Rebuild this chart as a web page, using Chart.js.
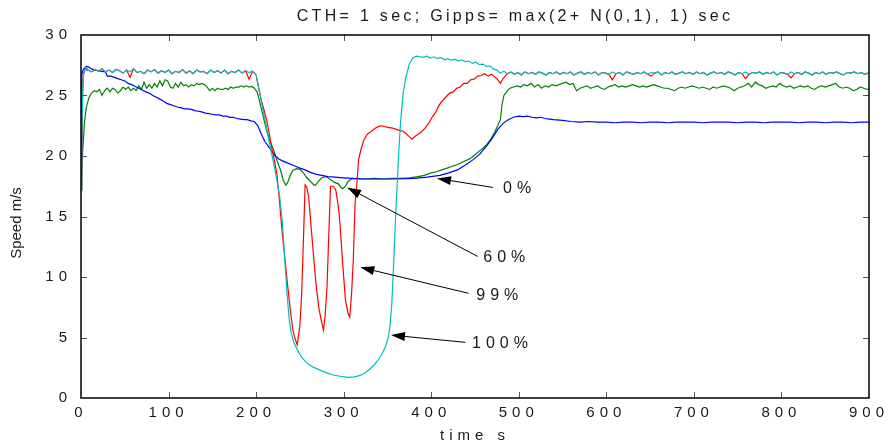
<!DOCTYPE html>
<html><head><meta charset="utf-8">
<script src="https://cdn.jsdelivr.net/npm/chart.js@4.4.1/dist/chart.umd.min.js"></script>
<style>html,body{margin:0;padding:0;background:#fff;}#wrap{width:894px;height:448px;}</style>
</head><body><div id="wrap"><canvas id="c" width="894" height="448"></canvas></div>
<script>
// ---------- data: [time s, speed m/s] ----------
const speed100pct = [ // cyan
[0,17.2],[1,22.0],[2,25.5],[3,26.8],[5,27.3],[7,27.25],
[8,27.10],[12,26.95],[16,27.15],[20,27.00],[24,27.20],[28,26.95],[32,27.10],[36,26.90],[40,27.15],[44,27.05],
[48,26.85],[52,27.10],[56,26.95],[60,27.20],[64,26.90],[68,27.00],[72,26.80],[76,27.10],[80,26.95],[84,27.15],
[88,26.85],[92,27.05],[96,26.90],[100,27.10],[104,26.80],[108,27.00],[112,26.90],[116,27.15],[120,26.85],[124,27.05],
[128,26.80],[132,27.10],[136,26.95],[140,27.00],[144,26.80],[148,27.10],[152,26.90],[156,27.05],[160,26.85],[164,27.10],
[168,26.80],[172,27.00],[176,26.90],[180,27.10],[184,26.85],[188,27.05],[192,26.90],[196,27.00],
[200,26.7],[203,25.6],[206,24.5],[209,23.4],[212,22.3],[216,20.8],[220,19.4],[224,17.9],[227,16.6],[230,14.5],
[232,12.3],[234,10.0],[236,8.0],[238,6.4],[240,5.4],[243,4.6],[247,4.0],[252,3.35],[258,2.9],[265,2.55],
[273,2.3],[280,2.1],[288,1.9],[296,1.8],[305,1.7],[312,1.75],[318,1.85],[323,2.0],[330,2.4],[335,2.75],
[340,3.2],[345,3.8],[348,4.3],[351,5.0],[353,6.0],[355,7.8],[357,11.0],[359,14.5],[361,17.5],[363,20.5],
[365,22.8],[368,25.2],[371,26.5],[375,27.6],[379,28.1],[383,28.25],
[387,28.20],[391,28.15],[395,28.25],[399,28.10],[403,28.20],[407,28.05],[411,28.15],[415,27.95],[419,28.05],[423,27.90],
[427,28.00],[431,27.85],[435,27.95],[439,27.80],[443,27.85],[447,27.65],[451,27.75],[455,27.55],[459,27.60],[463,27.40],
[467,27.45],[471,27.20],[475,27.10],[479,26.85],[483,27.00],
[487,26.80],[491,26.95],[495,26.75],[499,26.90],[503,26.70],[507,26.95],[511,26.80],[515,26.90],[519,26.75],[523,26.95],
[527,26.85],[531,26.70],[535,26.90],[539,26.80],[543,26.95],[547,26.75],[551,26.90],[555,26.80],[559,26.95],[563,26.70],
[567,26.85],[571,26.95],[575,26.75],[579,26.90],[583,26.80],[587,26.95],[591,26.70],[595,26.90],[599,26.85],[603,26.75],
[607,26.95],[611,26.80],[615,26.90],[619,26.70],[623,26.95],[627,26.85],[631,26.75],[635,26.90],[639,26.80],[643,26.95],
[647,26.75],[651,26.90],[655,26.85],[659,26.95],[663,26.70],[667,26.90],[671,26.80],[675,26.95],[679,26.75],[683,26.85],
[687,26.95],[691,26.80],[695,26.90],[699,26.75],[703,26.95],[707,26.80],[711,26.90],[715,26.70],[719,26.85],[723,26.95],
[727,26.80],[731,26.90],[735,26.75],[739,26.95],[743,26.85],[747,26.70],[751,26.90],[755,26.80],[759,26.95],[763,26.75],
[767,26.90],[771,26.85],[775,26.95],[779,26.75],[783,26.90],[787,26.80],[791,26.95],[795,26.70],[799,26.90],[803,26.85],
[807,26.75],[811,26.95],[815,26.80],[819,26.90],[823,26.75],[827,26.95],[831,26.85],[835,26.70],[839,26.90],[843,26.80],
[847,26.95],[851,26.75],[855,26.90],[859,26.85],[863,26.95],[867,26.80],[871,26.70],[875,26.90],[879,26.85],[883,26.95],
[887,26.80],[891,26.90],[895,26.75],[899,26.85],[900,26.9]
];

const speed99pct = [ // red
[0,17.2],[1,22.0],[2,25.5],[3,26.8],[5,27.25],[7,27.1],
[8,27.10],[12,26.95],[16,27.15],[20,27.00],[24,27.20],[28,26.95],[32,27.10],[36,26.90],[40,27.15],[44,27.05],
[48,26.85],[52,27.10],[56,26.50],[60,27.20],[64,26.90],[68,27.00],[72,26.80],[76,27.10],[80,26.95],[84,27.15],
[88,26.85],[92,27.05],[96,26.90],[100,27.10],[104,26.80],[108,27.00],[112,26.90],[116,27.15],[120,26.85],[124,27.05],
[128,26.80],[132,27.10],[136,26.95],[140,27.00],[144,26.80],[148,27.10],[152,26.90],[156,27.05],[160,26.85],[164,27.10],
[168,26.80],[172,27.00],[176,26.90],[180,27.10],[184,26.85],[188,27.05],[192,26.35],[196,27.00],
[200,26.7],[203,25.6],[206,24.6],[209,23.8],[212,23.0],[215,21.8],[218,20.6],[221,19.6],[224,18.4],[227,16.0],
[230,13.5],[233,11.4],[236,9.3],[239,7.3],[242,5.6],[244,5.0],[247,4.4],[250,6.0],[252,8.6],[254,13.0],
[256,17.6],[258,17.4],[260,16.6],[263,14.0],[266,11.4],[269,9.0],[272,7.3],[275,6.2],[277,5.6],[279,7.0],
[281,9.2],[283,13.5],[285,17.5],[288,17.5],[291,17.2],[294,15.8],[296,14.2],[299,11.0],[302,8.1],[305,7.0],
[307,6.7],[309,8.6],[311,11.4],[313,16.0],[315,17.6],[317,19.7],[320,20.6],[323,21.3],[327,21.8],[331,22.0],
[336,22.3],[340,22.45],[344,22.5],[348,22.4],[352,22.35],[356,22.3],[360,22.2],[364,22.1],[368,22.05],[372,21.8],
[375,21.6],[378,21.4],[381,21.6],[385,21.8],[389,22.0],[393,22.3],[397,22.7],[401,23.2],[405,23.6],[409,24.2],
[413,24.6],[417,24.9],[421,25.2],[425,25.3],[429,25.6],[433,25.7],[437,26.0],[441,26.0],[445,26.3],[449,26.35],
[453,26.6],[457,26.65],[461,26.8],[465,26.6],[469,26.75],[473,26.5],[476,26.3],[479,26.0],[482,26.4],
[487,26.80],[491,26.95],[495,26.75],[499,26.90],[503,26.70],[507,26.95],[511,26.80],[515,26.90],[519,26.75],[523,26.95],
[527,26.85],[531,26.70],[535,26.90],[539,26.80],[543,26.95],[547,26.75],[551,26.90],[555,26.80],[559,26.95],[563,26.70],
[567,26.85],[571,26.95],[575,26.75],[579,26.90],[583,26.80],[587,26.95],[591,26.70],[595,26.90],[599,26.85],[603,26.75],
[607,26.30],[611,26.80],[615,26.90],[619,26.70],[623,26.95],[627,26.85],[631,26.75],[635,26.90],[639,26.80],[643,26.95],
[647,26.75],[651,26.60],[655,26.85],[659,26.95],[663,26.70],[667,26.90],[671,26.80],[675,26.95],[679,26.75],[683,26.85],
[687,26.95],[691,26.80],[695,26.90],[699,26.75],[703,26.95],[707,26.80],[711,26.90],[715,26.70],[719,26.85],[723,26.95],
[727,26.80],[731,26.90],[735,26.75],[739,26.95],[743,26.85],[747,26.70],[751,26.90],[755,26.80],[759,26.40],[763,26.75],
[767,26.90],[771,26.85],[775,26.95],[779,26.75],[783,26.90],[787,26.80],[791,26.95],[795,26.70],[799,26.90],[803,26.85],
[807,26.75],[811,26.45],[815,26.80],[819,26.90],[823,26.75],[827,26.95],[831,26.85],[835,26.70],[839,26.90],[843,26.80],
[847,26.95],[851,26.75],[855,26.90],[859,26.85],[863,26.95],[867,26.80],[871,26.70],[875,26.90],[879,26.85],[883,26.95],
[887,26.80],[891,26.90],[895,26.75],[899,26.85],[900,26.9]
];

const speed60pct = [ // green
[0,17.0],[2,20.5],[4,22.8],[6,24.0],[9,24.8],[12,25.2],[15,25.4],
[18,25.3],[21,25.5],[24,25.0],[27,25.4],[30,25.6],[33,25.3],[36,25.6],[39,25.5],[42,25.2],[45,25.4],
[48,25.7],[51,25.5],[54,25.7],[57,25.4],[60,25.6],[63,25.4],[66,25.8],[69,25.5],[72,26.1],[75,25.6],
[78,25.9],[81,25.6],[84,26.0],[87,25.7],[90,26.2],[93,25.8],[96,26.3],[99,26.2],[102,25.7],[105,25.6],
[108,26.0],[111,25.7],[114,26.1],[117,25.8],[120,25.9],[123,25.7],[126,25.9],[129,25.8],[132,26.0],[135,25.9],
[138,26.0],[141,25.9],[144,25.7],[147,25.4],[150,25.6],[153,25.4],[156,25.6],[159,25.5],[162,25.5],[165,25.6],
[168,25.5],[171,25.7],[174,25.6],[177,25.7],[180,25.7],[183,25.8],[186,25.7],[189,25.8],[192,25.7],[195,25.75],
[198,25.6],[201,25.3],
[203,24.8],[206,23.9],[209,23.0],[212,22.1],[216,21.2],[220,20.5],[224,19.6],[228,18.8],[231,18.0],[234,17.6],
[236,17.8],[239,18.4],[242,18.8],[246,18.95],[250,18.9],[254,18.6],[258,18.2],[262,17.9],[266,17.6],[268,17.6],
[271,17.9],[275,18.2],[279,18.3],[282,18.2],[286,18.0],[290,17.8],[294,17.7],[297,17.4],[299,17.3],[302,17.5],
[305,17.9],[309,18.1],[315,18.15],[325,18.1],[335,18.15],[345,18.1],[355,18.15],[365,18.15],[375,18.2],[385,18.3],
[392,18.4],[400,18.6],[406,18.7],[412,18.85],[418,19.0],[424,19.15],[430,19.3],[436,19.5],[442,19.7],[446,19.85],
[450,20.1],[455,20.4],[460,20.7],[464,21.0],[468,21.4],[472,21.9],[476,22.5],[479,23.0],[481,24.3],[483,25.0],
[486,25.3],[490,25.6],[494,25.7],
[498,25.8],[502,25.7],[506,25.9],[510,25.8],[514,26.0],[518,25.7],[522,25.9],[526,25.6],[530,25.8],[534,25.7],
[538,25.9],[542,25.8],[546,25.9],[550,26.0],[554,26.1],[558,25.9],[562,26.0],[566,25.4],[570,25.6],[574,25.7],
[578,25.8],[582,25.6],[586,25.7],[590,25.8],[594,25.6],[598,25.5],[602,25.7],[606,25.8],[610,25.9],[614,25.7],
[618,25.8],[622,25.7],[626,25.8],[630,25.9],[634,25.8],[638,25.7],[642,25.8],[646,25.7],[650,25.8],[654,25.9],
[658,25.8],[662,25.7],[666,25.6],[670,25.6],[674,25.5],[678,25.4],[682,25.6],[686,25.7],[690,25.6],[694,25.7],
[698,25.8],[702,25.7],[706,25.6],[710,25.7],[714,25.6],[718,25.5],[722,25.7],[726,25.6],[730,25.7],[734,25.8],
[738,25.7],[742,25.6],[746,25.4],[750,25.6],[754,25.7],[758,25.8],[762,26.0],[766,25.7],[770,26.1],[774,25.9],
[778,25.8],[782,25.6],[786,25.7],[790,25.8],[794,25.7],[798,26.0],[802,25.8],[806,25.7],[810,25.8],[814,25.6],
[818,25.7],[822,25.8],[826,25.7],[830,25.8],[834,25.6],[838,25.5],[842,25.7],[846,25.8],[850,25.7],[854,25.8],
[858,25.9],[862,26.0],[866,25.7],[870,25.6],[874,25.7],[878,25.6],[882,25.4],[886,25.5],[890,25.7],[894,25.6],
[898,25.5],[900,25.55]
];

const speed0pct = [ // blue
[0,20.0],[1,26.8],[3,27.2],[6,27.4],[9,27.35],[12,27.2],[16,27.1],[20,27.05],[24,27.0],[28,26.95],
[30,26.6],[34,26.6],[38,26.5],[42,26.4],[46,26.3],[50,26.2],[54,26.0],[58,25.9],[62,25.75],[66,25.6],
[70,25.45],[74,25.3],[78,25.2],[82,25.0],[86,24.85],[90,24.7],[94,24.55],[98,24.35],[102,24.25],[106,24.15],
[110,24.05],[114,24.0],[118,23.9],[122,23.9],[126,23.85],[130,23.75],[134,23.7],[138,23.65],[142,23.55],[146,23.5],
[150,23.45],[154,23.4],[158,23.4],[162,23.3],[166,23.3],[170,23.2],[174,23.2],[178,23.1],[182,23.05],[186,23.0],
[190,23.0],[194,22.9],[198,22.85],[202,22.5],[206,21.8],[210,21.2],[214,20.8],[218,20.4],[222,20.0],[226,19.75],
[230,19.6],[235,19.45],[240,19.3],[245,19.15],[250,19.0],[256,18.85],[262,18.65],[268,18.5],[275,18.4],[282,18.3],
[290,18.25],[300,18.2],[310,18.15],[320,18.1],[340,18.1],[360,18.1],[380,18.15],[395,18.25],[410,18.4],[420,18.6],
[430,18.85],[440,19.3],[448,19.7],[456,20.2],[464,20.9],[470,21.5],[476,22.2],[482,22.7],[488,23.0],[494,23.2],
[500,23.3],[505,23.25],[510,23.3],[515,23.2],[520,23.15],[525,23.2],[530,23.1],[535,23.05],[540,23.0],[550,22.95],
[560,22.85],[570,22.8],[580,22.85],[590,22.8],[600,22.8],[610,22.75],[620,22.8],[630,22.8],[640,22.75],[650,22.8],
[660,22.8],[670,22.75],[680,22.8],[690,22.8],[700,22.8],[710,22.75],[720,22.8],[730,22.8],[740,22.8],[750,22.75],
[760,22.8],[770,22.8],[780,22.75],[790,22.8],[800,22.8],[810,22.8],[820,22.75],[830,22.8],[840,22.8],[850,22.75],
[860,22.8],[870,22.8],[880,22.75],[890,22.8],[900,22.8]
];

// annotation labels, anchored in data units
const annotationLabels = ['0%', '60%', '99%', '100%'];
const annotationTips   = [[406.6, 18.15], [303.9, 17.4], [319, 10.8], [354, 5.2]];
const annotationTails  = [[470.5, 17.4], [453, 11.7], [442.7, 8.65], [439, 4.6]];
const annotationText   = [[482, 17.3], [459.5, 11.6], [451.5, 8.45], [446.6, 4.5]];

const chartTitle = 'CTH= 1 sec; Gipps= max(2+ N(0,1), 1) sec';
const xAxisTitle = 'time s';
const yAxisTitle = 'Speed m/s';

const FONT = '"Liberation Sans", Arial, sans-serif';
const TEXT = '#1a1a1a';

const decorations = {
  id: 'decorations',
  beforeDraw(chart) { chart.ctx.letterSpacing = '5px'; },
  afterDatasetsDraw(chart) {
    const {ctx, chartArea: a, scales: {x, y}} = chart;
    ctx.save();
    ctx.strokeStyle = '#555'; ctx.lineWidth = 1;
    ctx.beginPath();
    x.ticks.forEach(t => {
      if (t.value <= x.min || t.value >= x.max) return;
      const p = Math.round(x.getPixelForValue(t.value)) + 0.5;
      ctx.moveTo(p, a.bottom); ctx.lineTo(p, a.bottom - 6);
      ctx.moveTo(p, a.top); ctx.lineTo(p, a.top + 6);
    });
    y.ticks.forEach(t => {
      if (t.value <= y.min || t.value >= y.max) return;
      const p = Math.round(y.getPixelForValue(t.value)) + 0.5;
      ctx.moveTo(a.left, p); ctx.lineTo(a.left + 6, p);
      ctx.moveTo(a.right, p); ctx.lineTo(a.right - 6, p);
    });
    ctx.stroke();
    ctx.strokeStyle = '#000'; ctx.lineWidth = 1.5;
    ctx.strokeRect(a.left, a.top, a.width, a.height);

    annotationLabels.forEach((lab, i) => {
      const tx = x.getPixelForValue(annotationTips[i][0]), ty = y.getPixelForValue(annotationTips[i][1]);
      const sx = x.getPixelForValue(annotationTails[i][0]), sy = y.getPixelForValue(annotationTails[i][1]);
      const ang = Math.atan2(ty - sy, tx - sx);
      const L = 14, W = 4.5;
      const bx = tx - L * Math.cos(ang), by = ty - L * Math.sin(ang);
      ctx.strokeStyle = '#000'; ctx.lineWidth = 1;
      ctx.beginPath(); ctx.moveTo(sx, sy); ctx.lineTo(bx, by); ctx.stroke();
      ctx.fillStyle = '#000';
      ctx.beginPath(); ctx.moveTo(tx, ty);
      ctx.lineTo(bx + W * Math.sin(ang), by - W * Math.cos(ang));
      ctx.lineTo(bx - W * Math.sin(ang), by + W * Math.cos(ang));
      ctx.closePath(); ctx.fill();
      ctx.font = '16px ' + FONT; ctx.letterSpacing = '5px';
      ctx.textAlign = 'left'; ctx.textBaseline = 'middle'; ctx.fillStyle = TEXT;
      ctx.fillText(lab, x.getPixelForValue(annotationText[i][0]), y.getPixelForValue(annotationText[i][1]));
    });
    ctx.restore();
  },
  afterDraw(chart) {
    const {ctx, chartArea: a} = chart;
    ctx.save();
    ctx.fillStyle = TEXT; ctx.textBaseline = 'middle'; ctx.textAlign = 'center';
    ctx.font = '16px ' + FONT; ctx.letterSpacing = '3.3px';
    ctx.fillText(chartTitle, 515, 17);
    ctx.font = '15px ' + FONT; ctx.letterSpacing = '5px';
    ctx.fillText(xAxisTitle, (a.left + a.right) / 2, 436);
    ctx.letterSpacing = '0px';
    ctx.translate(17, 223);
    ctx.rotate(-Math.PI / 2);
    ctx.fillText(yAxisTitle, 0, 0);
    ctx.restore();
  }
};

const mk = (data, color) => ({data, borderColor: color, borderWidth: 1.2, pointRadius: 0, tension: 0, fill: false});

new Chart(document.getElementById('c'), {
  type: 'line',
  data: {datasets: [
    mk(speed100pct, '#00bfbf'),
    mk(speed99pct, '#ff0000'),
    mk(speed0pct, '#0000ff'),
    mk(speed60pct, '#008000')
  ]},
  options: {
    responsive: false, animation: false, devicePixelRatio: 1,
    layout: {padding: {top: 35, right: 25, left: 0, bottom: 0}},
    plugins: {legend: {display: false}, tooltip: {enabled: false}, title: {display: false}},
    scales: {
      x: {type: 'linear', min: 0, max: 900,
          afterFit(s) { s.height = 50; },
          grid: {display: false, drawTicks: false}, border: {display: false},
          ticks: {stepSize: 100, padding: 6, color: TEXT, maxRotation: 0, autoSkip: false, font: {family: FONT, size: 15}}},
      y: {type: 'linear', min: 0, max: 30,
          afterFit(s) { s.width = 81; },
          grid: {display: false, drawTicks: false}, border: {display: false},
          ticks: {stepSize: 5, padding: 9, color: TEXT, font: {family: FONT, size: 15}}}
    }
  },
  plugins: [decorations]
});
</script>
</body></html>
